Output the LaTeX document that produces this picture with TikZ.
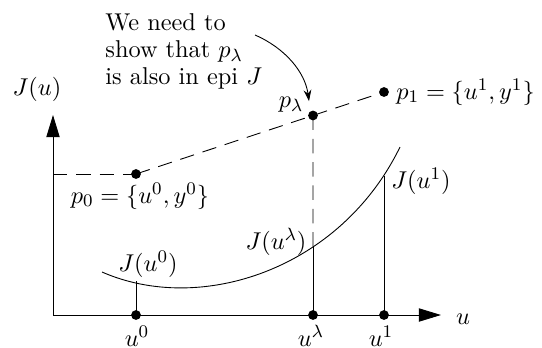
\documentclass[tikz,border=0pt]{standalone}
\usetikzlibrary{arrows.meta,calc}
\begin{document}
\begin{tikzpicture}[x=0.45pt,y=-0.45pt,
  font=\fontsize{10.95}{12.2}\selectfont,
  dot/.style={circle,fill,inner sep=0pt,minimum size=4.4pt},
  lbl/.style={inner sep=0pt},
  axis/.style={-{Triangle[length=10pt,width=6pt]}},
  dashline/.style={dash pattern=on 6.5pt off 4pt}]
\useasboundingbox (0,0) rectangle (542,347);
% coordinates
\coordinate (O) at (53,315);
\coordinate (ytip) at (53,115);
\coordinate (xtip) at (441,315);
\coordinate (y0) at (53,174);
\coordinate (c0) at (136,281);
\coordinate (cl) at (313,247);
\coordinate (c1) at (384,176);
\coordinate (cs) at (102,272);
\coordinate (ce) at (400,147);
\coordinate (as) at (255,35);
\coordinate (ae) at (309,101);
% dots
\node[dot] (u0) at (136,315) {};
\node[dot] (ul) at (313,315) {};
\node[dot] (u1) at (384,315) {};
\node[dot] (p0) at (136,174) {};
\node[dot] (p1) at (384,92) {};
\node[dot] (pl) at ($(p0.center)!0.7137!(p1.center)$) {};
% axes
\draw[axis] (O) -- (ytip);
\draw[axis] (O) -- (xtip);
% curve
\draw (cs) .. controls (200,315) and (340,270) .. (ce);
% dashed
\draw[dashline] (y0) -- (p0.center);
\draw[dashline] (p0.center) -- (p1.center);
\draw[dashline] (pl.center) -- (cl);
% verticals
\draw (u0.center) -- (c0);
\draw (ul.center) -- (cl);
\draw (u1.center) -- (c1);
% arrow
\draw[-{Stealth[length=5pt,width=3.5pt]}] (as) .. controls (285,48) and (305,72) .. (ae);
% labels
\node[lbl] (Ju) at (37,89) {$J(u)$};
\node[lbl] (ux) at (463,319) {$u$};
\node[lbl,anchor=base] (lu0) at (137,346) {$u^0$};
\node[lbl,anchor=base] (lul) at (311,346) {$u^\lambda$};
\node[lbl,anchor=base] (lu1) at (381,346) {$u^1$};
\node[lbl] (lp0) at (140,196) {$p_0=\{u^0,y^0\}$};
\node[lbl,anchor=west] (lp1) at (396,92) {$p_1=\{u^1,y^1\}$};
\node[lbl] (lpl) at (291,105) {$p_\lambda$};
\node[lbl] (Ju0) at (148,264) {$J(u^0)$};
\node[lbl] (Jul) at (276,242) {$J(u^\lambda)$};
\node[lbl] (Ju1) at (421,181) {$J(u^1)$};
\node[lbl,anchor=north west,align=left] (note) at (105,13) {We need to\\ show that $p_\lambda$\\ is also in epi $J$};
\end{tikzpicture}
\end{document}
